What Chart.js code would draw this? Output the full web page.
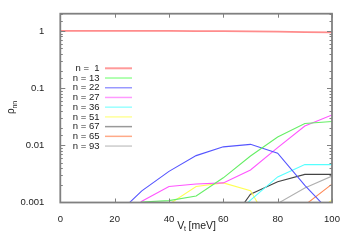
<!DOCTYPE html>
<html>
<head>
<meta charset="utf-8">
<script src="https://cdn.jsdelivr.net/npm/chart.js@4.4.1/dist/chart.umd.min.js"></script>
<style>
  html, body { margin: 0; padding: 0; background: #fff; }
  #wrap { width: 349px; height: 244px; }
</style>
</head>
<body>
<div id="wrap"><canvas id="rhoChart"></canvas></div>
<script>
// V_t values (meV)
const vt = [0, 10, 20, 30, 40, 50, 60, 70, 80, 90, 100];

// rho_nn for each n (null = far below the plotted range)
const n1  = [1.0, 1.0, 1.0, 1.0, 0.998, 0.995, 0.99, 0.98, 0.97, 0.955, 0.94];
const n13 = [null, null, 0.0004, 0.00102, 0.00108, 0.0013, 0.0027, 0.0065, 0.014, 0.024, 0.026];
const n22 = [null, null, 0.00056, 0.0016, 0.0035, 0.0066, 0.0094, 0.0104, 0.0073, 0.002, 0.00063];
const n27 = [null, null, 0.0004, 0.00105, 0.0019, 0.0021, 0.0022, 0.0037, 0.0091, 0.0218, 0.034];
const n36 = [null, null, null, null, null, null, 0.0004, 0.0011, 0.0028, 0.0046, 0.0046];
const n51 = [null, null, null, 0.0003, 0.00093, 0.0019, 0.0022, 0.0016, 0.00025, 0.0005, 0.0011];
const n67 = [null, null, null, null, null, null, 0.0003, 0.0014, 0.0023, 0.0031, 0.0031];
const n65 = [null, null, null, null, null, null, null, null, 0.0001, 0.0009, 0.0021];
const n93 = [null, null, null, null, null, null, null, 0.0005, 0.00096, 0.0018, 0.0029];

const xTicks = [0, 20, 40, 60, 80, 100];
const yLabels = [1, 0.1, 0.01, 0.001];

const seriesLabels = ['n =  1', 'n = 13', 'n = 22', 'n = 27', 'n = 36', 'n = 51', 'n = 67', 'n = 65', 'n = 93'];
const seriesValues = [n1, n13, n22, n27, n36, n51, n67, n65, n93];
const seriesColors = ['#ff8c8c', '#66ee66', '#5555ff', '#ff55ff', '#55ffff', '#ffff55', '#444444', '#ff8855', '#b0b0b0'];
const legendColors = ['#ff9a9a', '#99ff99', '#9999ff', '#ff99ff', '#99ffff', '#ffff99', '#999999', '#ffaa88', '#cccccc'];

const FONT = '"Liberation Sans", Arial, sans-serif';

function isDecade(v) {
  const l = Math.log10(v);
  return Math.abs(l - Math.round(l)) < 1e-9;
}

// border, inward ticks, axis titles and legend (gnuplot style)
const decorPlugin = {
  id: 'decor',
  afterDraw(chart) {
    const c = chart.ctx;
    const a = chart.chartArea;
    const xs = chart.scales.x;
    const ys = chart.scales.y;
    c.save();

    c.strokeStyle = '#808080';
    c.lineWidth = 1;
    c.beginPath();
    ys.ticks.forEach(t => {
      const py = Math.round(ys.getPixelForValue(t.value)) + 0.5;
      if (py < a.top || py > a.bottom) return;
      const len = isDecade(t.value) ? 5 : 2.5;
      c.moveTo(a.left, py); c.lineTo(a.left + len, py);
      c.moveTo(a.right, py); c.lineTo(a.right - len, py);
    });
    xTicks.forEach(v => {
      const px = Math.round(xs.getPixelForValue(v)) + 0.5;
      c.moveTo(px, a.top); c.lineTo(px, a.top + 4);
      c.moveTo(px, a.bottom); c.lineTo(px, a.bottom - 4);
    });
    c.stroke();

    c.lineWidth = 1.8;
    c.strokeRect(a.left, a.top, a.right - a.left, a.bottom - a.top);

    // axis titles
    c.fillStyle = '#222';
    c.textBaseline = 'alphabetic';
    c.textAlign = 'left';
    c.font = '10.5px ' + FONT;
    c.fillText('V', 177.3, 228.5);
    c.font = '7px ' + FONT;
    c.fillText('t', 184, 230.5);
    c.font = '10.5px ' + FONT;
    c.fillText('[meV]', 188.5, 228.5);

    c.save();
    c.translate(14, (a.top + a.bottom) / 2);
    c.rotate(-Math.PI / 2);
    c.font = '10px ' + FONT;
    c.fillText('\u03c1', -6, 0);
    c.font = '7px ' + FONT;
    c.fillText('nn', -0.5, 2.5);
    c.restore();

    // legend
    c.font = '9.5px ' + FONT;
    c.textAlign = 'right';
    c.textBaseline = 'middle';
    seriesLabels.forEach((lab, i) => {
      const y = 68.3 + i * 9.72;
      c.fillStyle = '#222';
      c.fillText(lab, 99.5, y);
      c.strokeStyle = legendColors[i];
      c.lineWidth = i === 0 ? 2 : 1.5;
      c.beginPath();
      c.moveTo(105, y); c.lineTo(132, y);
      c.stroke();
    });
    c.restore();
  }
};

const datasets = seriesValues.map((arr, i) => ({
  label: seriesLabels[i],
  data: vt.map((v, k) => ({ x: v, y: arr[k] })),
  borderColor: seriesColors[i],
  borderWidth: i === 0 ? 1.8 : 1.1,
  pointRadius: 0,
  fill: false,
  tension: 0,
  spanGaps: false
}));

const ctx = document.getElementById('rhoChart').getContext('2d');
new Chart(ctx, {
  type: 'line',
  data: { datasets: datasets },
  plugins: [decorPlugin],
  options: {
    responsive: true,
    maintainAspectRatio: false,
    animation: false,
    events: [],
    layout: { padding: { left: 0, right: 17, top: 11, bottom: 0 } },
    plugins: {
      legend: { display: false },
      tooltip: { enabled: false }
    },
    scales: {
      x: {
        type: 'linear',
        min: 0,
        max: 100,
        grid: { display: false },
        border: { display: false },
        afterFit: s => { s.height = 41.5; },
        afterBuildTicks: s => { s.ticks = xTicks.map(v => ({ value: v })); },
        ticks: {
          color: '#222',
          padding: 3,
          maxRotation: 0,
          font: { family: FONT, size: 9.5 }
        }
      },
      y: {
        type: 'logarithmic',
        min: 0.001,
        max: 2,
        grid: { display: false },
        border: { display: false },
        afterFit: s => { s.width = 60.3; },
        ticks: {
          color: '#222',
          padding: 8,
          autoSkip: false,
          font: { family: FONT, size: 9.5 },
          callback: v => (isDecade(v) && yLabels.includes(Number(v.toPrecision(3)))) ? String(Number(v.toPrecision(3))) : ''
        }
      }
    }
  }
});
</script>
</body>
</html>
